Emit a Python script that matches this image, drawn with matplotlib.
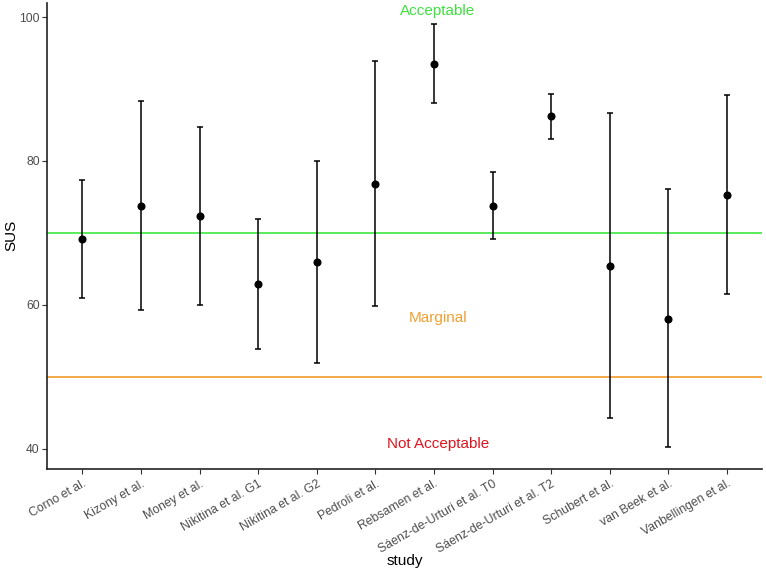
import matplotlib
matplotlib.use("Agg")
import matplotlib.pyplot as plt
import numpy as np

plt.rcParams["font.family"] = ["Liberation Sans", "DejaVu Sans"]

studies = ["Corno et al.", "Kizony et al.", "Money et al.", "Nikitina et al. G1",
           "Nikitina et al. G2", "Pedroli et al.", "Rebsamen et al.",
           "Sáenz-de-Urturi et al. T0", "Sáenz-de-Urturi et al. T2",
           "Schubert et al.", "van Beek et al.", "Vanbellingen et al."]
sus_mean = [69.1, 73.7, 72.3, 62.9, 65.9, 76.8, 93.5, 73.7, 86.2, 65.4, 58.0, 75.3]
sus_low = [61.0, 59.2, 60.0, 53.9, 51.9, 59.8, 88.0, 69.1, 83.1, 44.2, 40.2, 61.5]
sus_high = [77.3, 88.3, 84.7, 71.9, 80.0, 93.9, 99.1, 78.5, 89.3, 86.7, 76.1, 89.2]
thresholds = [70, 50]
threshold_colors = ["#4DEB4D", "#F2A33A"]
zone_labels = ["Acceptable", "Marginal", "Not Acceptable"]
zone_y = [100.9, 58.2, 40.7]
zone_colors = ["#3FE03F", "#F0A030", "#E0141E"]

fig = plt.figure(figsize=(7.66, 5.70), dpi=100)
ax = fig.add_axes([0.0618, 0.1777, 0.9330, 0.8170])

x = np.arange(1, len(studies) + 1)
mean = np.array(sus_mean)
yerr = np.vstack([mean - np.array(sus_low), np.array(sus_high) - mean])

for yv, c in zip(thresholds, threshold_colors):
    ax.axhline(yv, color=c, lw=1.3, zorder=1)

ax.errorbar(x, mean, yerr=yerr, fmt="o", color="black", ms=4.8,
            elinewidth=1.1, capsize=2.2, capthick=1.1, zorder=3)

for lab, yv, c in zip(zone_labels, zone_y, zone_colors):
    ax.text(7.07, yv, lab, color=c, fontsize=11, ha="center", va="center")

ax.set_xlim(0.4, 12.6)
ax.set_ylim(37.2, 101.95)
ax.set_yticks([40, 60, 80, 100])
ax.set_xticks(x)
ax.set_xticklabels(studies, rotation=30, ha="right", rotation_mode="anchor",
                   fontsize=8.8, color="#4D4D4D")
for t in ax.get_yticklabels():
    t.set_fontsize(8.8)
    t.set_color("#4D4D4D")
ax.tick_params(axis="both", length=3.5, width=0.8, color="#333333")
ax.tick_params(axis="x", pad=3)
ax.tick_params(axis="y", pad=2)

for s in ["top", "right"]:
    ax.spines[s].set_visible(False)
for s in ["left", "bottom"]:
    ax.spines[s].set_linewidth(1.2)
    ax.spines[s].set_color("#222222")

fig.text(11 / 766, 1 - 235 / 570, "SUS", fontsize=11, rotation=90,
         ha="center", va="center")
fig.text(405 / 766, 1 - 561 / 570, "study", fontsize=11, ha="center", va="center")

fig.savefig("out.png", dpi=100)
